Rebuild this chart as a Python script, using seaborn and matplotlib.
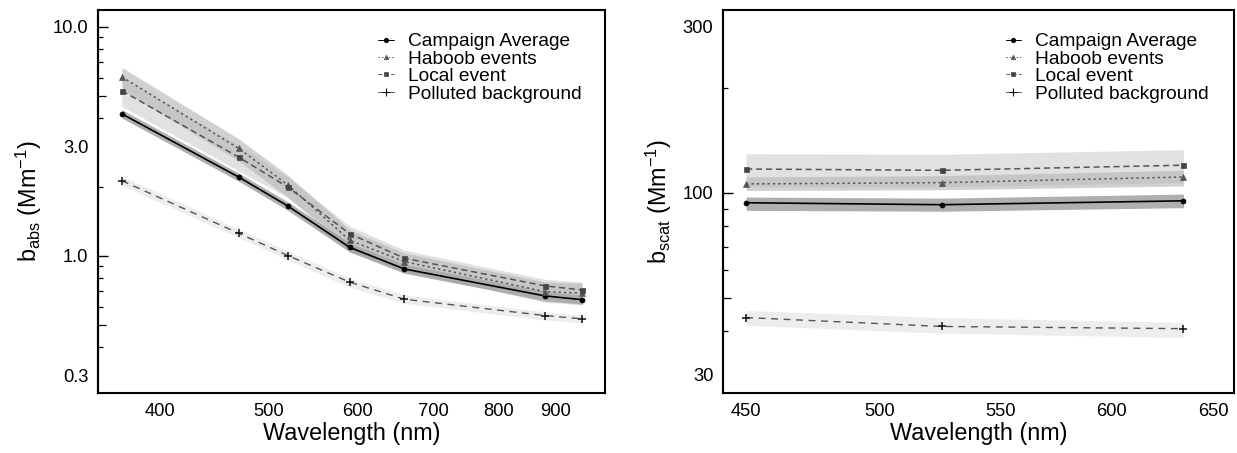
import numpy as np
import pandas as pd
import matplotlib
matplotlib.use("Agg")
import matplotlib.pyplot as plt
import seaborn as sns
from matplotlib.ticker import FixedLocator, FixedFormatter, NullLocator, LogLocator

# ==============================
# DATA
# ==============================
groups = ["Campaign Average", "Haboob events", "Local event", "Polluted background"]

# absorption (aethalometer wavelengths)
wl_abs = [370, 470, 520, 590, 660, 880, 950]
abs_avg = [4.17, 2.21, 1.65, 1.09, 0.877, 0.669, 0.644]
abs_avg_lo = [4.00, 2.12, 1.58, 1.04, 0.84, 0.64, 0.615]
abs_avg_hi = [4.35, 2.30, 1.72, 1.14, 0.92, 0.70, 0.675]
abs_hab = [6.05, 2.95, 2.04, 1.17, 0.944, 0.699, 0.687]
abs_hab_lo = [5.30, 2.60, 1.80, 1.06, 0.86, 0.63, 0.62]
abs_hab_hi = [6.65, 3.25, 2.25, 1.30, 1.03, 0.77, 0.76]
abs_loc = [5.26, 2.70, 1.995, 1.25, 0.977, 0.74, 0.71]
abs_loc_lo = [4.50, 2.35, 1.80, 1.12, 0.87, 0.63, 0.61]
abs_loc_hi = [6.00, 3.05, 2.20, 1.35, 1.06, 0.79, 0.77]
abs_pol = [2.13, 1.256, 1.003, 0.768, 0.647, 0.549, 0.531]
abs_pol_lo = [2.03, 1.20, 0.96, 0.73, 0.62, 0.525, 0.51]
abs_pol_hi = [2.23, 1.31, 1.05, 0.80, 0.675, 0.57, 0.55]

# scattering (nephelometer wavelengths)
wl_scat = [450, 525, 635]
scat_avg = [93.6, 92.4, 94.8]
scat_avg_lo = [89.0, 88.5, 90.6]
scat_avg_hi = [97.2, 96.5, 99.1]
scat_hab = [106.0, 106.9, 111.0]
scat_hab_lo = [101.5, 102.0, 104.6]
scat_hab_hi = [111.0, 112.0, 116.0]
scat_loc = [117.0, 116.0, 120.0]
scat_loc_lo = [104.0, 104.0, 107.0]
scat_loc_hi = [129.4, 129.0, 133.0]
scat_pol = [43.8, 41.3, 40.7]
scat_pol_lo = [41.6, 39.5, 38.4]
scat_pol_hi = [45.9, 43.8, 42.4]

abs_xticks = [400, 500, 600, 700, 800, 900]
abs_yticks = [0.3, 1.0, 3.0, 10.0]
abs_ylabels = ["0.3", "1.0", "3.0", "10.0"]
scat_xticks = [450, 500, 550, 600, 650]
scat_yticks = [30, 100, 300]
scat_ylabels = ["30", "100", "300"]


def long_frame(wl, vals, los, his):
    rows = []
    for g, v, lo, hi in zip(groups, vals, los, his):
        for w, a, b, c in zip(wl, v, lo, hi):
            rows.append((g, w, a, b, c))
    return pd.DataFrame(rows, columns=["group", "wl", "val", "lo", "hi"])


df_abs = long_frame(wl_abs,
                    [abs_avg, abs_hab, abs_loc, abs_pol],
                    [abs_avg_lo, abs_hab_lo, abs_loc_lo, abs_pol_lo],
                    [abs_avg_hi, abs_hab_hi, abs_loc_hi, abs_pol_hi])
df_scat = long_frame(wl_scat,
                     [scat_avg, scat_hab, scat_loc, scat_pol],
                     [scat_avg_lo, scat_hab_lo, scat_loc_lo, scat_pol_lo],
                     [scat_avg_hi, scat_hab_hi, scat_loc_hi, scat_pol_hi])

styles = {
    "Campaign Average": dict(color="black", ls="-", marker="o", ms=3.6, lw=1.2,
                             mfc="black", band="#7a7a7a", alpha=0.6),
    "Haboob events": dict(color="#555555", ls=(0, (1.5, 2)), marker="^", ms=3.8, lw=1.1,
                          mfc="#555555", band="#9a9a9a", alpha=0.45),
    "Local event": dict(color="#555555", ls=(0, (4, 2.5)), marker="s", ms=3.6, lw=1.1,
                        mfc="#444444", band="#b8b8b8", alpha=0.42),
    "Polluted background": dict(color="#555555", ls=(0, (5, 4)), marker="+", ms=6, lw=1.0,
                                mfc="#111111", band="#d8d8d8", alpha=0.45),
}

sns.set_theme(style="white")
plt.rcParams["font.family"] = ["Liberation Sans", "DejaVu Sans"]
plt.rcParams["mathtext.fontset"] = "custom"
plt.rcParams["mathtext.rm"] = "Liberation Sans"
plt.rcParams["mathtext.it"] = "Liberation Sans:italic"
plt.rcParams["axes.unicode_minus"] = True
for k in ["text.color", "axes.labelcolor", "xtick.color", "ytick.color"]:
    plt.rcParams[k] = "black"


def draw_panel(ax, df, xlim, ylim, xticks, yticks, ylabels, ylabel, decades, fives):
    ax.set_xscale("log")
    ax.set_yscale("log")
    # bands first
    for g in groups:
        d = df[df.group == g]
        st = styles[g]
        ax.fill_between(d.wl, d.lo, d.hi, color=st["band"], alpha=st["alpha"],
                        linewidth=0, zorder=1)
    for g in groups:
        d = df[df.group == g]
        st = styles[g]
        sns.lineplot(data=d, x="wl", y="val", ax=ax, color=st["color"], linestyle=st["ls"],
                     linewidth=st["lw"], marker=st["marker"], markersize=st["ms"],
                     markerfacecolor=st["mfc"], markeredgecolor=st["mfc"],
                     markeredgewidth=1.1 if st["marker"] == "+" else 0.5,
                     label=g, zorder=3)
    ax.set_xlim(*xlim)
    ax.set_ylim(*ylim)

    ax.xaxis.set_major_locator(FixedLocator(xticks))
    ax.xaxis.set_major_formatter(FixedFormatter([str(t) for t in xticks]))
    ax.xaxis.set_minor_locator(NullLocator())
    ax.yaxis.set_major_locator(FixedLocator(yticks))
    ax.yaxis.set_major_formatter(FixedFormatter(ylabels))
    ax.yaxis.set_minor_locator(LogLocator(base=10, subs=(2, 3, 4, 6, 7, 8, 9), numticks=20))

    ax.tick_params(axis="x", which="major", direction="inout", length=8, width=1.1,
                   labelsize=13.2, pad=3, color="black")
    ax.tick_params(axis="y", which="major", direction="out", length=4, width=1.1,
                   labelsize=13.2, pad=3, color="black")
    ax.tick_params(axis="y", which="minor", direction="in", length=3.5, width=0.9,
                   color="black", left=True)

    # log ticks inside: long at decades, mid at fives
    sec = ax.secondary_yaxis("left")
    sec.yaxis.set_major_locator(FixedLocator(decades))
    sec.yaxis.set_minor_locator(FixedLocator(fives))
    sec.tick_params(which="major", direction="in", length=7.5, width=1.0, labelleft=False)
    sec.tick_params(which="minor", direction="in", length=5.5, width=0.9, labelleft=False)
    sec.spines["left"].set_linewidth(1.5)

    for s in ax.spines.values():
        s.set_visible(True)
        s.set_color("black")
        s.set_linewidth(1.5)

    ax.set_xlabel("Wavelength (nm)", fontsize=16.8, labelpad=2)
    ax.set_ylabel(ylabel, fontsize=16.8, labelpad=6)

    leg = ax.legend(loc="upper left", bbox_to_anchor=(0.553, 0.94), frameon=False,
                    fontsize=13.8, handlelength=0.8, handletextpad=0.75,
                    labelspacing=0.0, borderpad=0, borderaxespad=0)
    for h in leg.legend_handles:
        h.set_linewidth(0.7)
        if h.get_marker() == "+":
            h.set_markersize(6)
            h.set_markeredgewidth(0.8)
            h.set_linestyle("-")
        else:
            h.set_markersize(3.2)


fig = plt.figure(figsize=(12.37, 4.53), dpi=100)
ax1 = fig.add_axes([0.0792, 0.1325, 0.4099, 0.8455])
ax2 = fig.add_axes([0.5845, 0.1325, 0.4131, 0.8455])

draw_panel(ax1, df_abs, (352.3, 995.6), (0.252, 11.86), abs_xticks, abs_yticks, abs_ylabels,
           r"b$_{\mathrm{abs}}$ (Mm$^{\mathrm{-1}}$)", [1.0, 10.0], [0.5, 5.0])
draw_panel(ax2, df_scat, (441.9, 660.8), (26.6, 335.0), scat_xticks, scat_yticks, scat_ylabels,
           r"b$_{\mathrm{scat}}$ (Mm$^{\mathrm{-1}}$)", [100.0], [50.0])

fig.savefig("out.png", dpi=100)
plt.close(fig)
